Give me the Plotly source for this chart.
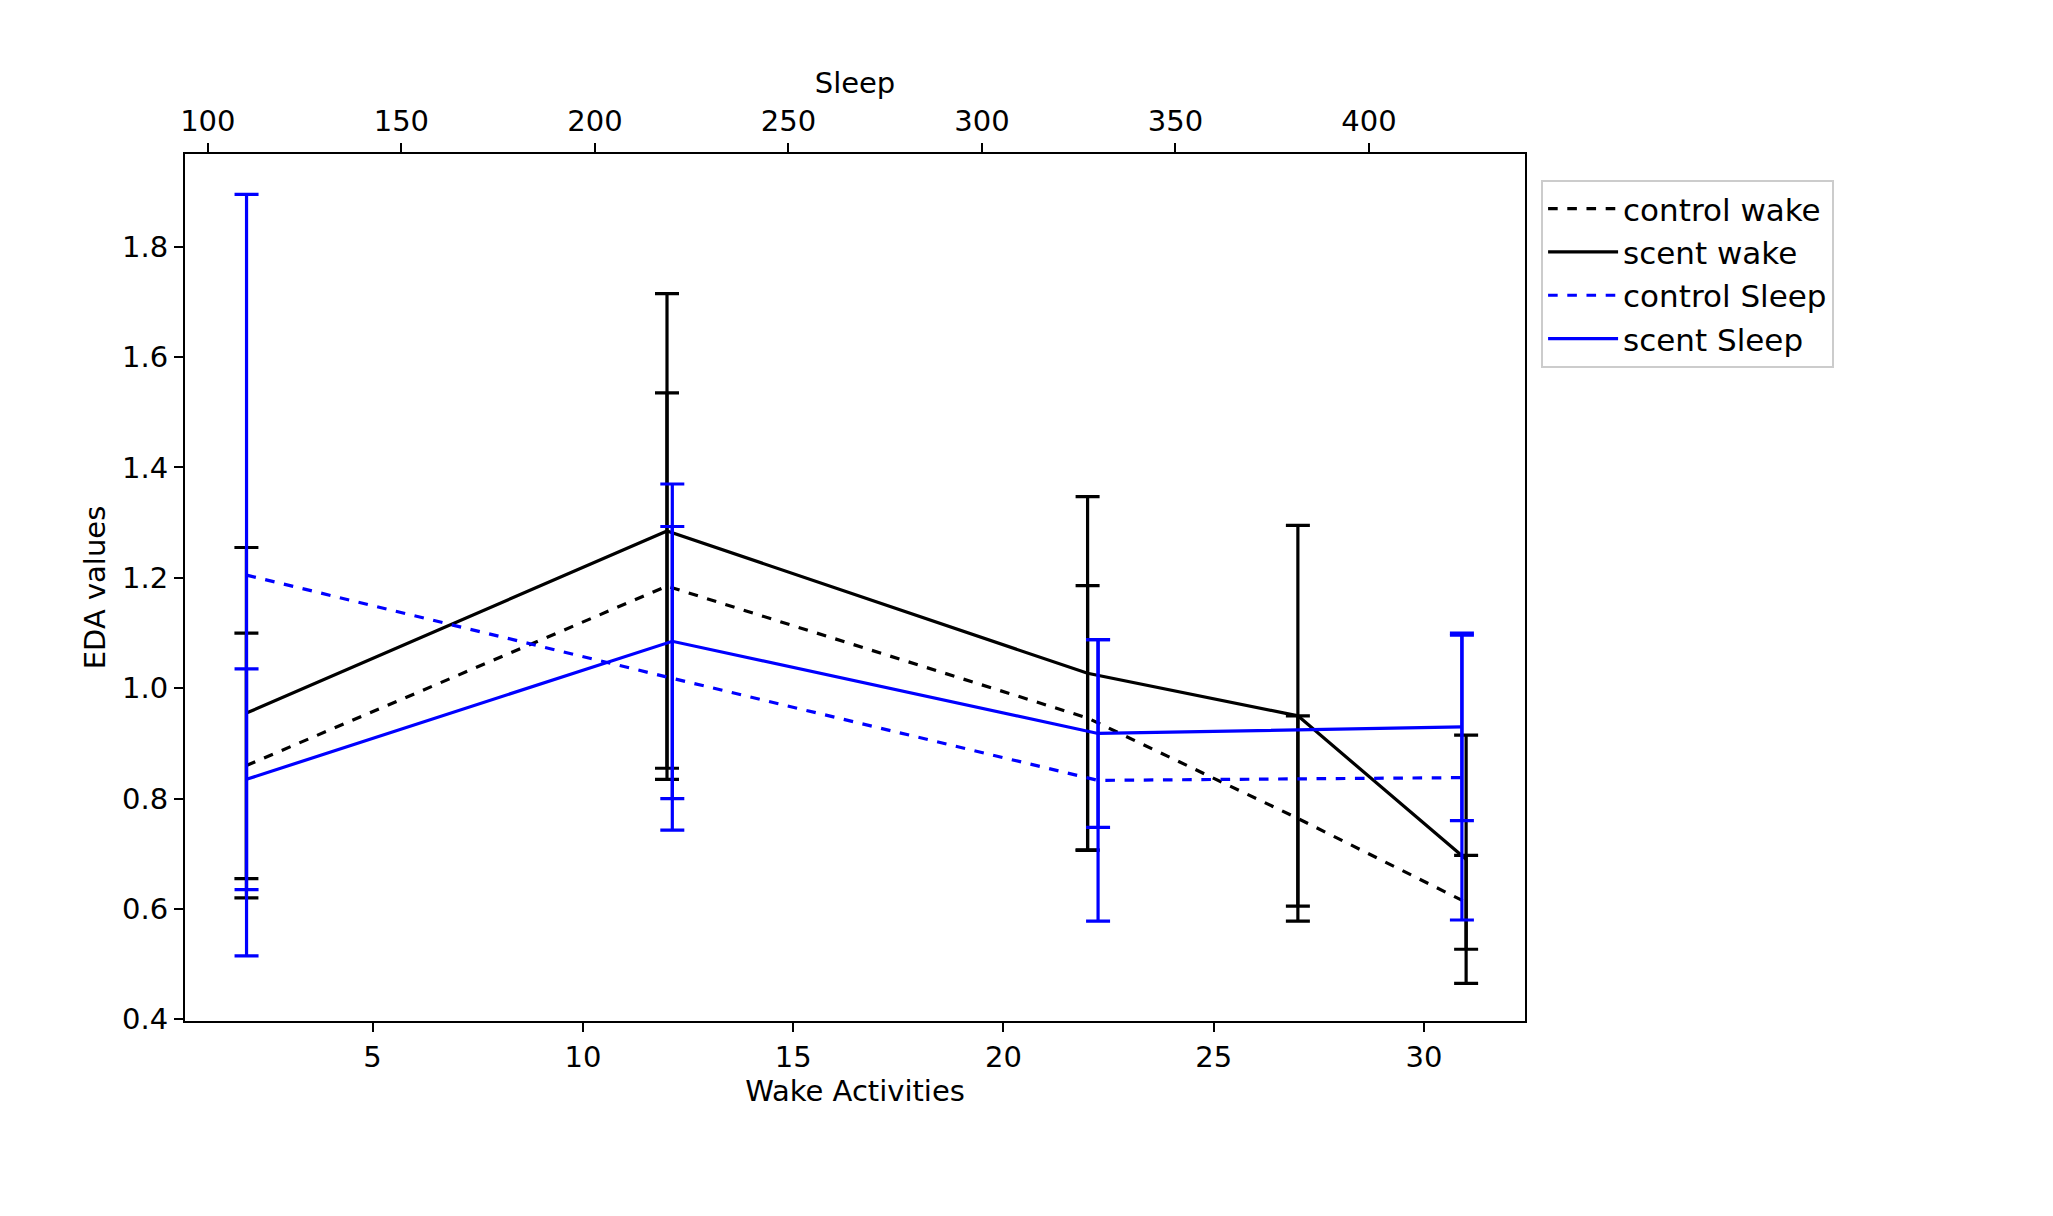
import plotly.graph_objects as go

wake_x = [2, 12, 22, 27, 31]
control_wake = [0.86, 1.185, 0.946, 0.764, 0.612]
control_wake_err = [0.24, 0.35, 0.24, 0.186, 0.085]
scent_wake = [0.955, 1.285, 1.027, 0.95, 0.69]
scent_wake_err = [0.30, 0.43, 0.32, 0.345, 0.225]

sleep_x = [110, 220, 330, 424]
control_sleep = [1.205, 1.018, 0.833, 0.838]
control_sleep_err = [0.69, 0.275, 0.255, 0.258]
scent_sleep = [0.835, 1.085, 0.918, 0.93]
scent_sleep_err = [0.20, 0.285, 0.17, 0.17]

FONT = "DejaVu Sans"
FS = 29
fig = go.Figure()

def add(x, y, e, name, color, dash, axis):
    fig.add_trace(go.Scatter(
        x=x, y=y, name=name, mode="lines", xaxis=axis,
        line=dict(color=color, width=3.2, dash=dash),
        error_y=dict(type="data", array=e, visible=True, color=color, thickness=3.2, width=12)))

add(wake_x, control_wake, control_wake_err, "control wake", "black", "dash", "x")
add(wake_x, scent_wake, scent_wake_err, "scent wake", "black", "solid", "x")
add(sleep_x, control_sleep, control_sleep_err, "control Sleep", "blue", "dash", "x2")
add(sleep_x, scent_sleep, scent_sleep_err, "scent Sleep", "blue", "solid", "x2")

axis_common = dict(showgrid=False, zeroline=False, showline=True, linecolor="black", linewidth=2,
                   ticks="outside", ticklen=9, tickwidth=2, tickcolor="black",
                   tickfont=dict(family=FONT, size=FS, color="black"))

fig.update_layout(
    width=2053, height=1216, plot_bgcolor="white", paper_bgcolor="white",
    margin=dict(l=177, r=2053 - 1517, t=146, b=1216 - 1013),
    font=dict(family=FONT, size=FS, color="black"),
    xaxis=dict(**axis_common, range=[0.54, 32.4], tickvals=[5, 10, 15, 20, 25, 30], mirror=False,
               title=dict(text="Wake Activities", font=dict(family=FONT, size=FS), standoff=8)),
    xaxis2=dict(**axis_common, overlaying="x", side="top", range=[94.1, 440.3],
                tickvals=[100, 150, 200, 250, 300, 350, 400],
                title=dict(text="Sleep", font=dict(family=FONT, size=FS), standoff=2)),
    yaxis=dict(**axis_common, range=[0.397, 1.968], tickvals=[0.4, 0.6, 0.8, 1.0, 1.2, 1.4, 1.6, 1.8],
               ticktext=["0.4", "0.6", "0.8", "1.0", "1.2", "1.4", "1.6", "1.8"], mirror=True,
               title=dict(text="EDA values", font=dict(family=FONT, size=FS), standoff=8)),
    legend=dict(x=1.012, y=0.97, xanchor="left", yanchor="top", bordercolor="#cccccc", borderwidth=2,
                font=dict(family=FONT, size=31), tracegroupgap=14, itemwidth=70),
    showlegend=True,
)
fig.write_html("out.html")
